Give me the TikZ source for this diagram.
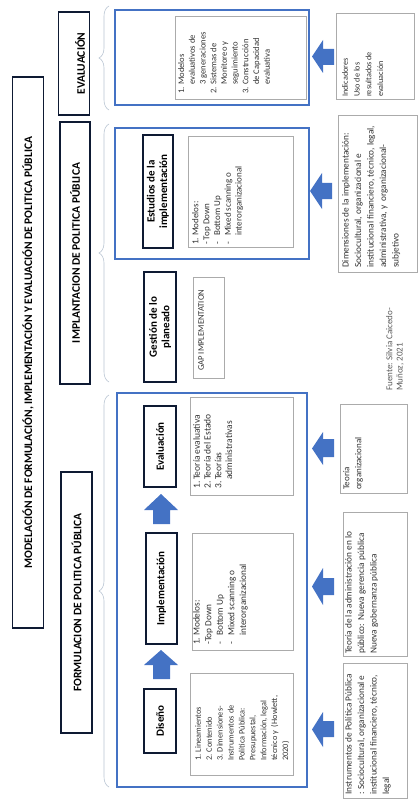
\documentclass[tikz,border=0pt]{standalone}
\usepackage{fontspec}
\setmainfont{Carlito}
\usetikzlibrary{decorations.pathreplacing}

\definecolor{wordblue}{HTML}{4472C4}
\definecolor{boxgray}{HTML}{ABABAB}
\definecolor{navy}{HTML}{0E1A33}
\definecolor{bracegray}{HTML}{B8C4D2}
\definecolor{textgray}{HTML}{333333}

\newcommand{\listnum}[1]{\makebox[9pt][l]{#1}}
\newcommand{\listgap}{\hspace*{9pt}}

\begin{document}
\begin{tikzpicture}[x=1pt, y=-1pt,
	hdr/.style={draw=navy, line width=1.2pt, rotate=90, inner sep=0pt, align=center, font=\bfseries\fontsize{11}{12.5}\selectfont},
	hdrtext/.style={rotate=90, inner sep=0pt, font=\bfseries\fontsize{11.5}{13}\selectfont},
	bluebox/.style={draw=wordblue, line width=2.6pt},
	graybox/.style={draw=boxgray, line width=0.6pt},
	listtext/.style={rotate=90, anchor=north west, inner sep=0pt, align=left, text=textgray, font=\fontsize{9}{10.8}\selectfont},
	sidetext/.style={listtext, font=\fontsize{9.3}{12.5}\selectfont},
	blockarrow/.style={fill=wordblue},
	pbrace/.style={draw=bracegray, line width=0.6pt, decorate, decoration={brace, amplitude=10pt}}]

	\useasboundingbox (0,0) rectangle (419,805);

	% Title and section headers
	\node[hdr, minimum width=551pt, minimum height=31pt, font=\bfseries\fontsize{11.5}{13}\selectfont] (title) at (28,352.5)
		{MODELACIÓN DE FORMULACIÓN, IMPLEMENTACIÓN Y EVALUACIÓN DE POLITICA PÚBLICA};
	\node[hdr, minimum width=103pt, minimum height=31pt] (evalHdr) at (74,63.5) {};
	\node[hdrtext] (evalHdrText) at ([xshift=6pt]evalHdr.center) {EVALUACIÓN};
	\node[hdr, minimum width=262pt, minimum height=30pt] (implHdr) at (75,253) {};
	\node[hdrtext] (implHdrText) at (implHdr.center) {IMPLANTACION DE POLITICA PÚBLICA};
	\node[hdr, minimum width=261pt, minimum height=31pt] (formHdr) at (76.5,602.5) {};
	\node[hdrtext] (formHdrText) at (formHdr.center) {FORMULACION DE POLITICA PÚBLICA};

	% Braces
	\draw[pbrace] (109,110) -- (109,6);
	\draw[pbrace] (109,382) -- (109,124);
	\draw[pbrace] (109,787) -- (109,395);

	% Blue frames
	\draw[bluebox] (115,10) rectangle (309,105);
	\draw[bluebox] (115,128) rectangle (309,259);
	\draw[bluebox] (117,393) rectangle (307,787);

	% Evaluation block
	\draw[graybox] (175,16) rectangle (306,99);
	\node[listtext, font=\fontsize{8.6}{10.7}\selectfont] (evalList) at (178,94) {\listnum{1.}Modelos\\\listgap evaluativos de\\\listgap 3 generaciones\\\listnum{2.}Sistemas de\\\listgap Monitoreo y\\\listgap seguimiento\\\listnum{3.}Construcción\\\listgap de Capacidad\\\listgap evaluativa};

	% Implantation block
	\node[hdr, minimum width=113pt, minimum height=30pt] (estudios) at (158,191.5) {Estudios de la\\implementación};
	\draw[graybox] (188,136) rectangle (293,247);
	\node[listtext] (estList) at (192,245) {\listnum{1.}Modelos:\\- Top Down\\\listnum{-}Bottom Up\\\listnum{-}Mixed scanning o\\\listgap interorganizacional};
	\node[hdr, minimum width=110pt, minimum height=32pt] (gestion) at (160,327) {Gestión de lo\\planeado};
	\draw[graybox] (193,277) rectangle (224,378);
	\node[listtext, font=\fontsize{8.6}{10}\selectfont] (gap) at (198,371) {GAP IMPLEMENTATION};

	% Formulation block
	\node[hdr, minimum width=81pt, minimum height=32pt] (evaluacion) at (160,446.5) {Evaluación};
	\draw[graybox] (190,397) rectangle (293,495);
	\node[listtext, font=\fontsize{9.5}{10.8}\selectfont] (teoList) at (193,489) {\listnum{1.}Teoría evaluativa\\\listnum{2.}Teoría del Estado\\\listnum{3.}Teorías\\\listgap administrativas};
	\node[hdr, minimum width=111pt, minimum height=31pt] (implementacion) at (161.5,588.5) {Implementación};
	\draw[graybox] (192,533) rectangle (293,650);
	\node[listtext, font=\fontsize{9.3}{11.6}\selectfont] (implList) at (193,645) {\listnum{1.}Modelos:\\-Top Down\\\listnum{-}Bottom Up\\\listnum{-}Mixed scanning o\\\listgap interorganizacional};
	\node[hdr, minimum width=64pt, minimum height=32pt] (diseno) at (160,721) {Diseño};
	\draw[graybox] (190,673) rectangle (293,775);
	\node[listtext, font=\fontsize{8.3}{10.9}\selectfont] (disList) at (195,761) {1. Lineamientos\\2. Contenido\\3. Dimensiones-\\Instrumentos de\\Política Pública:\\Presupuestal,\\Información, legal\\técnico y~~(Howlett,\\2020)};

	% Up arrows
	\fill[blockarrow] (161,494) -- (178,510) -- (170,510) -- (170,524) -- (153,524) -- (153,510) -- (144,510) -- cycle;
	\fill[blockarrow] (161,650) -- (178,665) -- (170,665) -- (170,679) -- (153,679) -- (153,665) -- (144,665) -- cycle;

	% Left arrows
	\fill[blockarrow] (312,56.5) -- (323,40) -- (323,49) -- (334,49) -- (334,65) -- (323,65) -- (323,73) -- cycle;
	\fill[blockarrow] (310,191) -- (322,173) -- (322,183) -- (332,183) -- (332,199) -- (322,199) -- (322,209) -- cycle;
	\fill[blockarrow] (312,448.5) -- (323,432) -- (323,439) -- (334,439) -- (334,457) -- (323,457) -- (323,465) -- cycle;
	\fill[blockarrow] (312,586.5) -- (323,568) -- (323,578) -- (334,578) -- (334,595) -- (323,595) -- (323,605) -- cycle;
	\fill[blockarrow] (312,729.5) -- (323,712) -- (323,721) -- (334,721) -- (334,737) -- (323,737) -- (323,747) -- cycle;

	% Side boxes
	\draw[graybox] (336,13) rectangle (414,99);
	\node[sidetext, font=\fontsize{8.2}{11.7}\selectfont] (indic) at (342,97) {Indicadores\\Uso de los\\resultados de\\evaluación};
	\draw[graybox] (338,115) rectangle (417,272);
	\node[sidetext] (dimens) at (342,268) {Dimensiones de la implementación:\\Sociocultural, organizacional e\\institucional financiero, técnico, legal,\\administrativa, y~~organizacional-\\subjetivo};
	\draw[graybox] (340,404) rectangle (407,493);
	\node[sidetext, font=\fontsize{9}{12}\selectfont] (teorg) at (343,490) {Teoría\\organizacional};
	\draw[graybox] (343,512) rectangle (407,656);
	\node[sidetext] (teadm) at (345,654) {Teoría de la administración en lo\\público: Nueva gerencia pública\\Nueva gobernanza pública};
	\draw[graybox] (343,663) rectangle (407,798);
	\node[sidetext] (instr) at (345,795) {Instrumentos de Política Pública\\: Sociocultural, organizacional e\\institucional financiero, técnico,\\legal};

	% Source
	\node[listtext, text=black!65, font=\fontsize{9}{10.2}\selectfont] (fuente) at (386,391) {Fuente: Silvia Caicedo-\\Muñoz, 2021};
\end{tikzpicture}
\end{document}
